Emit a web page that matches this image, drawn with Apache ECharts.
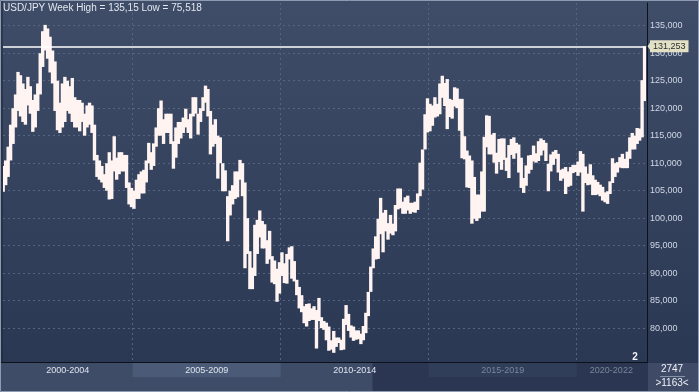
<!DOCTYPE html>
<html><head><meta charset="utf-8">
<script src="https://cdn.jsdelivr.net/npm/echarts@6/dist/echarts.min.js"></script>
<style>html,body{margin:0;padding:0;background:#2c3852;}#c{width:699px;height:392px;}</style>
</head><body><div id="c"></div>
<script>
// ---- data ----
const startYear = 2000, startMonth = 8; // first monthly bar: Aug 2000
const highs = [
 109.5,110.5,113,117,120,
 122.5,126.6,126,124.5,123.5,125.7,124,121.5,122.5,124.5,130,134,
 135.15,134.5,133,130.5,128.5,125,121,124.5,125.7,125,124,125.5,
 122,121.5,121.5,121,119,120.5,121,120.5,117,111.5,110.5,109.5,
 108,110,112,110.5,114.9,111,112,112,111.5,111.5,106.5,105.5,
 105,107,108,108.5,108.8,110.5,113.7,112,113.6,116.5,120,121.4,
 118,119,119,119,114,116.5,117.5,117.5,118.3,119.9,118,119,
 122,122,119,120,122,124.1,123.5,119.5,117,118,115,114.7,
 110,108.7,104,105,106,108.5,108.5,110.6,110,106.5,100,94,
 91,98.8,99.7,101.4,99.5,98.9,96,97.7,93.1,92.3,90.8,92,
 93.8,91.8,93.5,94.7,94.9,92.2,88.8,87.5,86,84,84.4,84.5,
 83.6,84,83.3,85.5,82,81.3,81,80.3,77.8,79.5,78.3,78.3,
 77.9,81.7,84.2,82.6,80.5,80.3,79.6,79.6,79,80.4,82.8,86.6,
 91.2,94.5,96.7,99.9,103.7,101,101.5,99.1,100.6,99,102.4,105.4,
 105.4,103,103.8,104.1,102.8,102.8,103,104.5,110.1,112.5,118.9,121.8,
 120.8,120.5,122,120.8,124.5,125.9,124.6,125.3,121.7,121.5,123.8,123.6,
 121.7,121.7,114.9,112.3,111.4,110.5,107.5,104.3,104.3,108.5,114.8,118.7,
 118.6,115.2,115.5,111.9,114.4,114.5,114.5,111,113.3,114.4,114.7,113.7,
 113.4,111,107.3,109.6,111.4,111.5,113.2,111.8,114,114.5,114.2,113.7,
 109.9,111.6,112.1,112.4,111.7,108.8,109,109.3,108.5,109.3,109.7,109.7,
 110.3,112.2,111.7,109.4,108.1,109.8,107.8,107,106.6,106.1,105.7,104.7,
 104.9,106.7,110.9,110,110.2,111.1,111.7,110.8,112.1,114.7,115.5,115,
 116.4,116.3,125.1,131.25
];
const lows = [
 104.8,106,107.5,110.5,113.5,
 116.5,119.5,118.5,117.5,117,120.5,119,115.7,116.5,119.5,122.5,127.5,
 130.5,129,126.5,124.5,119.5,116,115.5,116.5,117.5,119.5,119,117.5,
 116.5,116.5,115.8,117.5,115,116.5,117,115.5,110.5,107.5,107,106.5,
 105.5,105,103.4,103.5,108.5,107,108,108.5,108.5,105.5,102.5,102,
 101.7,103.5,103.5,104.5,104.5,106.5,110,108.8,109.5,113,115,115,
 113.5,115.5,115.5,113.5,109,111,113.5,114.5,115.5,116.5,115.5,114.5,
 118.5,119,115.2,117.5,119.5,121,118.5,111.6,113,113.5,107.2,110,
 104.9,104.9,95.8,100.5,102.5,103.5,103.8,107,104,90.9,93.5,87.1,
 87.1,89.5,93.5,96.5,94.5,94.5,91.7,92.5,88.3,88,84.8,86.3,
 89.5,88.2,88.1,92.5,89,88.5,86,83.6,82.9,80.9,80.3,81.3,
 81.5,81.5,76.3,81.3,80,79.7,77.8,75.9,76.1,75.52,76.6,77.3,
 76,76.1,80.6,79.5,78.3,77.7,77.9,78,77.1,77.8,79.1,82.2,
 86.6,90.9,92.5,92.6,97.1,93.8,97.6,96.1,97.2,96.9,97.6,101.6,
 101.8,100.8,100.8,101.4,100.8,101.1,101,101.5,104,105.2,112.5,115.6,
 115.8,116.8,118.3,118.5,118.9,121.9,120.4,116.2,118.4,118.1,120.3,120,
 115.9,110.9,110.7,105.6,105.5,99,99.9,99.5,100,101.2,101.2,112.9,
 111.6,111.6,110.1,108.1,110.2,108.8,110.6,108.6,107.3,111.5,110.8,111.8,
 108.3,105.5,104.6,105.9,108.1,108.8,110.3,110.1,110.4,111.4,112.3,110.4,
 104.9,108.5,109.7,110.8,108.3,106.8,107.2,104.4,105.7,105.9,108.2,108.4,
 107.7,108.3,101.2,106.4,106,106.1,104.2,104.2,104.3,104,103.2,102.9,
 102.6,104.4,106.4,107.5,108.3,109.2,109.1,109.1,109.1,110.8,112.5,112.5,
 113.5,114.1,114.7,121.3
];
const yTicks = [80,85,90,95,100,105,110,115,120,125,130,135];
const bandNames = ['2000-2004','2005-2009','2010-2014','2015-2019','2020-2022'];
const bandStarts = [2000,2005,2010,2015,2020];
const bandEnds = [2005,2010,2015,2020,2023];
const lastPrice = 131.253;
const titleText = 'USD/JPY Week High = 135,15 Low = 75,518';

// ---- build ----
const xMin = 2000.618, xMax = 2022.34, yMin = 73.85, yMax = 139.13;
const months = highs.map((h, i) => {
  const mi = (startMonth - 1) + i;
  return (startYear + Math.floor(mi / 12)) + '-' + String(mi % 12 + 1).padStart(2, '0');
});
const seriesData = months.map((m, i) => {
  const [y, mo] = m.split('-').map(Number);
  return [y + (mo - 0.5) / 12, lows[i], highs[i]];
});
const bandCenters = bandStarts.map((s, i) => (Math.max(s, xMin) + Math.min(bandEnds[i], xMax)) / 2);
const FONT = 'Liberation Sans, Arial, sans-serif';
const fmt = v => v.toFixed(3).replace('.', ',');

const chart = echarts.init(document.getElementById('c'), null, {renderer: 'canvas'});
chart.setOption({
  animation: false,
  backgroundColor: {type: 'linear', x: 0, y: 0, x2: 0, y2: 1, colorStops: [
    {offset: 0, color: '#3f4d69'}, {offset: 0.92, color: '#2b3853'}, {offset: 1, color: '#2b3853'}]},
  title: {text: titleText, left: 3, top: 3, padding: 0,
    textStyle: {color: '#e4e8ef', fontSize: 10, fontWeight: 'normal', fontFamily: FONT}},
  grid: {left: 3, right: 53, top: 3, bottom: 30, containLabel: false},
  xAxis: {
    type: 'value', min: xMin, max: xMax,
    axisLine: {show: true, lineStyle: {color: '#0d111a', width: 1}},
    axisTick: {show: false, customValues: [2005, 2010, 2015, 2020]},
    splitLine: {show: true, lineStyle: {color: '#56657f', type: [2, 3], width: 1}},
    axisLabel: {
      customValues: bandCenters, margin: 4, fontSize: 9, fontFamily: FONT,
      formatter: v => {
        const i = bandCenters.findIndex(c => Math.abs(c - v) < 1e-6);
        if (i < 0) return '';
        return (i >= 3 ? '{d|' : '{l|') + bandNames[i] + '}';
      },
      rich: {l: {color: '#dfe5ee', fontSize: 9, fontFamily: FONT}, d: {color: '#7a869b', fontSize: 9, fontFamily: FONT}}
    }
  },
  yAxis: {
    type: 'value', position: 'right', min: yMin, max: yMax, offset: 1,
    axisLine: {show: true, lineStyle: {color: '#0d111a', width: 1}},
    axisTick: {show: false, customValues: yTicks},
    splitLine: {show: true, lineStyle: {color: '#56657f', type: [2, 3], width: 1}},
    axisLabel: {customValues: yTicks, margin: 3, fontSize: 9, color: '#cfd7e4', fontFamily: FONT, formatter: fmt}
  },
  series: [{
    type: 'custom', clip: true,
    data: seriesData,
    encode: {x: 0, y: [1, 2]},
    renderItem: (params, api) => {
      const t = api.value(0), lo = api.value(1), hi = api.value(2);
      const p1 = api.coord([t, hi]), p2 = api.coord([t, lo]);
      const w = api.size([1 / 12, 0])[0];
      return {type: 'rect', shape: {x: p1[0] - w / 2 - 0.45, y: p1[1], width: w + 0.9, height: Math.max(1, p2[1] - p1[1])},
        style: {fill: '#fff4f1'}};
    },
    markLine: {
      silent: true, symbol: 'none', animation: false,
      data: [{yAxis: lastPrice}],
      lineStyle: {color: '#ffffff', width: 1.5, type: 'solid'},
      label: {show: true, position: 'end', distance: 4, formatter: fmt(lastPrice),
        backgroundColor: '#e2e1c6', color: '#2e2e2e', fontSize: 9, fontFamily: FONT, padding: [2, 3, 1, 3]}
    }
  }]
});

// bottom band decorations
const X = v => chart.convertToPixel({xAxisIndex: 0}, v);
const Y = v => chart.convertToPixel({yAxisIndex: 0}, v);
const gl = X(xMin), gr = X(xMax), gb = Y(yMin);
const yl = Y(lastPrice);
chart.setOption({graphic: [
  {type: 'rect', z: -5, shape: {x: 0, y: gb, width: gr + 1, height: 392 - gb}, style: {fill: '#2b3752'}},
  {type: 'rect', z: -4, shape: {x: 0, y: gb, width: 372.5, height: 392 - gb}, style: {fill: '#3f4c68'}},
  {type: 'rect', z: -3, shape: {x: X(bandStarts[1]), y: gb + 1, width: X(bandEnds[1]) - X(bandStarts[1]), height: 14}, style: {fill: '#4b5a76'}},
  {type: 'rect', z: -3, shape: {x: X(bandStarts[3]), y: gb + 1, width: X(bandEnds[3]) - X(bandStarts[3]), height: 14}, style: {fill: '#313e5a'}},
  {type: 'rect', z: -5, shape: {x: gr + 2, y: gb + 1, width: 699 - gr - 2, height: 392 - gb}, style: {fill: '#3e4a66'}},
  {type: 'line', z: 5, shape: {x1: 0, y1: gb + 0.5, x2: gr + 2, y2: gb + 0.5}, style: {stroke: '#0d111a', lineWidth: 1}},
  {type: 'line', z: 5, shape: {x1: 660, y1: 376.5, x2: 685, y2: 376.5}, style: {stroke: '#8793a8', lineWidth: 1}},
  {type: 'text', z: 10, style: {text: '2747', x: 672, y: 369, align: 'center', verticalAlign: 'middle', fill: '#eef1f6', font: '10px ' + FONT}},
  {type: 'text', z: 10, style: {text: '>1163<', x: 672, y: 383, align: 'center', verticalAlign: 'middle', fill: '#eef1f6', font: '10px ' + FONT}},
  {type: 'text', z: 10, style: {text: '2', x: 635, y: 357, align: 'center', verticalAlign: 'middle', fill: '#f2f4f8', font: 'bold 10px ' + FONT}},
  {type: 'polygon', z: 10, shape: {points: [[gr + 1.5, yl], [gr + 5, yl - 5], [gr + 5, yl + 5]]}, style: {fill: '#e2e1c6'}},
  {type: 'rect', z: 20, shape: {x: 0.5, y: 0.5, width: 698, height: 391}, style: {fill: null, stroke: '#8e9bb0', lineWidth: 1}},
  {type: 'line', z: 20, shape: {x1: 2, y1: 1, x2: 2, y2: gb}, style: {stroke: '#1c2435', lineWidth: 1}}
]});
</script></body></html>
